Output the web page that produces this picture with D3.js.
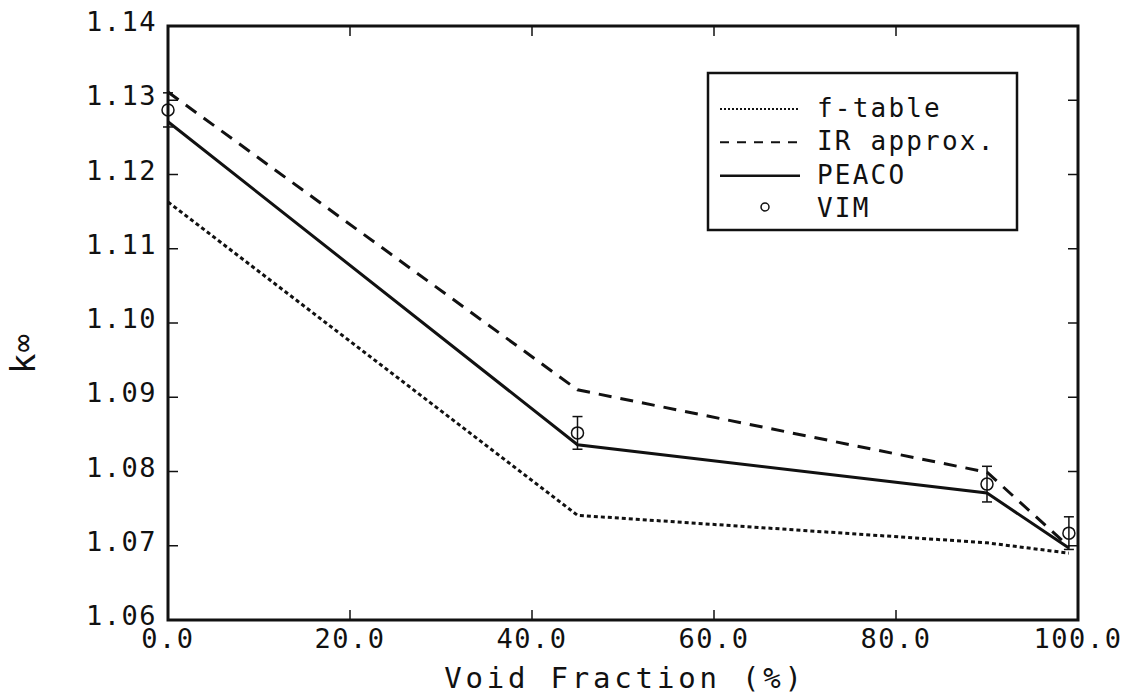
<!DOCTYPE html>
<html>
<head>
<meta charset="utf-8">
<script src="https://cdn.jsdelivr.net/npm/d3@7"></script>
<style>
  body { margin: 0; background: #fff; }
  svg text { font-family: "DejaVu Sans Mono", "Liberation Mono", monospace; fill: #111; }
</style>
</head>
<body>
<div class="js-chart"></div>
<script>
// Values
const voidFraction = [0, 45, 90, 99];
const fTable   = [1.1163, 1.0741, 1.0704, 1.0690];
const irApprox = [1.1311, 1.0910, 1.0799, 1.0699];
const peaco    = [1.1271, 1.0836, 1.0771, 1.0697];
const vimValue = [1.1287, 1.0852, 1.0783, 1.0717];
const vimError = [0.0023, 0.0022, 0.0024, 0.0022];

const xTicks = [0, 20, 40, 60, 80, 100];
const yTicks = [1.06, 1.07, 1.08, 1.09, 1.10, 1.11, 1.12, 1.13, 1.14];

const legendLabels = ["f-table", "IR approx.", "PEACO", "VIM"];

const width = 1131;
const height = 698;
const margin = { top: 26, right: 53, bottom: 78, left: 168 };

const svg = d3.select(".js-chart")
  .append("svg")
  .attr("width", width)
  .attr("height", height);

const x = d3.scaleLinear().domain([0, 100]).range([margin.left, width - margin.right]);
const y = d3.scaleLinear().domain([1.06, 1.14]).range([height - margin.bottom, margin.top]);

// frame
svg.append("rect")
  .attr("x", x(0)).attr("y", y(1.14))
  .attr("width", x(100) - x(0)).attr("height", y(1.06) - y(1.14))
  .attr("fill", "none").attr("stroke", "#111").attr("stroke-width", 3);

// ticks, all pointing inwards
const tickLen = 10;
svg.append("g").selectAll("line").data(yTicks.slice(1, -1)).enter().append("line")
  .attr("x1", x(0)).attr("x2", x(0) + tickLen)
  .attr("y1", d => y(d)).attr("y2", d => y(d))
  .attr("stroke", "#111").attr("stroke-width", 1.5);
svg.append("g").selectAll("line").data(yTicks.slice(1, -1)).enter().append("line")
  .attr("x1", x(100)).attr("x2", x(100) - tickLen)
  .attr("y1", d => y(d)).attr("y2", d => y(d))
  .attr("stroke", "#111").attr("stroke-width", 1.5);
svg.append("g").selectAll("line").data(xTicks.slice(1, -1)).enter().append("line")
  .attr("x1", d => x(d)).attr("x2", d => x(d))
  .attr("y1", y(1.06)).attr("y2", y(1.06) - tickLen)
  .attr("stroke", "#111").attr("stroke-width", 1.5);
svg.append("g").selectAll("line").data(xTicks.slice(1, -1)).enter().append("line")
  .attr("x1", d => x(d)).attr("x2", d => x(d))
  .attr("y1", y(1.14)).attr("y2", y(1.14) + tickLen)
  .attr("stroke", "#111").attr("stroke-width", 1.5);

// tick labels
svg.append("g").selectAll("text").data(yTicks).enter().append("text")
  .attr("x", x(0) - 11)
  .attr("y", d => y(d) + 5)
  .attr("text-anchor", "end")
  .attr("font-size", 27)
  .attr("letter-spacing", 1.5)
  .text(d => d3.format(".2f")(d));

svg.append("g").selectAll("text").data(xTicks).enter().append("text")
  .attr("x", d => x(d))
  .attr("y", y(1.06) + 28)
  .attr("text-anchor", "middle")
  .attr("font-size", 27)
  .attr("letter-spacing", 1.5)
  .text(d => d3.format(".1f")(d));

// axis titles
svg.append("text")
  .attr("x", 625).attr("y", 688)
  .attr("text-anchor", "middle")
  .attr("font-size", 29)
  .attr("letter-spacing", 3.8)
  .text("Void Fraction (%)");

const yTitle = svg.append("text")
  .attr("transform", "translate(35,374) rotate(-90)")
  .attr("font-size", 34);
yTitle.append("tspan").text("k");
yTitle.append("tspan").attr("font-size", 30).attr("dx", 1).attr("dy", -2).text("\u221e");

// series
const series = [
  { values: fTable,   dash: "4,3",  width: 3 },
  { values: irApprox, dash: "13,9", width: 3 },
  { values: peaco,    dash: null,   width: 3 }
];

const line = d3.line()
  .x(d => x(d[0]))
  .y(d => y(d[1]));

series.forEach(function (s) {
  svg.append("path")
    .datum(voidFraction.map((v, i) => [v, s.values[i]]))
    .attr("d", line)
    .attr("fill", "none")
    .attr("stroke", "#111")
    .attr("stroke-width", s.width)
    .attr("stroke-dasharray", s.dash);
});

// VIM points with error bars
const vim = voidFraction.map((v, i) => ({ x: v, y: vimValue[i], e: vimError[i] }));
const vimG = svg.append("g").selectAll("g").data(vim).enter().append("g");
vimG.append("line")
  .attr("x1", d => x(d.x)).attr("x2", d => x(d.x))
  .attr("y1", d => y(d.y - d.e)).attr("y2", d => y(d.y + d.e))
  .attr("stroke", "#111").attr("stroke-width", 1.5);
[-1, 1].forEach(function (sgn) {
  vimG.append("line")
    .attr("x1", d => x(d.x) - 5).attr("x2", d => x(d.x) + 5)
    .attr("y1", d => y(d.y + sgn * d.e)).attr("y2", d => y(d.y + sgn * d.e))
    .attr("stroke", "#111").attr("stroke-width", 1.5);
});
vimG.append("circle")
  .attr("cx", d => x(d.x)).attr("cy", d => y(d.y))
  .attr("r", 6)
  .attr("fill", "none").attr("stroke", "#111").attr("stroke-width", 1.5);

// legend
const legend = svg.append("g").attr("transform", "translate(708,73)");
legend.append("rect")
  .attr("width", 309).attr("height", 157)
  .attr("fill", "#fff").attr("stroke", "#111").attr("stroke-width", 2.5);

const rowY = d3.scalePoint().domain(legendLabels).range([44, 144]);
const legendStyles = [
  { dash: "2,2", width: 2 },
  { dash: "9,8", width: 2 },
  { dash: null,  width: 2.5 },
  null
];

legendLabels.forEach(function (label, i) {
  const yy = rowY(label);
  const st = legendStyles[i];
  if (st) {
    legend.append("line")
      .attr("x1", 12).attr("x2", 92)
      .attr("y1", yy - 8).attr("y2", yy - 8)
      .attr("stroke", "#111")
      .attr("stroke-width", st.width)
      .attr("stroke-dasharray", st.dash);
  } else {
    legend.append("circle")
      .attr("cx", 57).attr("cy", yy - 10).attr("r", 4)
      .attr("fill", "none").attr("stroke", "#111").attr("stroke-width", 1.5);
  }
  legend.append("text")
    .attr("x", 109).attr("y", yy)
    .attr("font-size", 26)
    .attr("letter-spacing", 2.2)
    .text(label);
});
</script>
</body>
</html>
